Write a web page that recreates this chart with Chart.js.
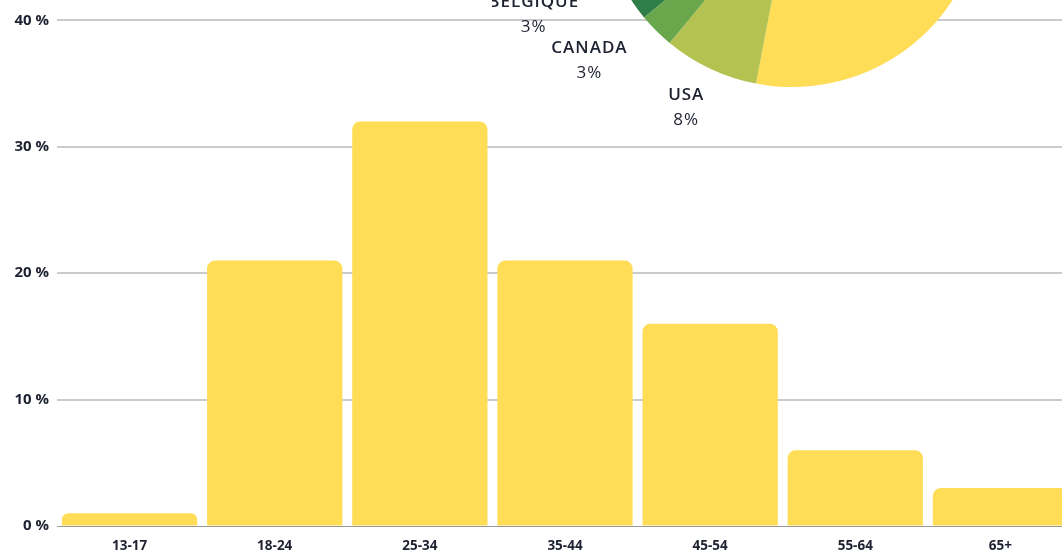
<!DOCTYPE html>
<html>
<head>
<meta charset="utf-8">
<script src="https://cdn.jsdelivr.net/npm/chart.js@4.4.1/dist/chart.umd.min.js"></script>
<style>
  html, body { margin: 0; padding: 0; background: #ffffff; width: 1062px; height: 552px; overflow: hidden; }
  #wrap { position: relative; width: 1062px; height: 552px; overflow: hidden; }
  #bars { position: absolute; left: 0; top: -123px; }
  #pie { position: absolute; left: 492px; top: -405px; }
</style>
</head>
<body>
<div id="wrap">
  <canvas id="bars" width="1080" height="675"></canvas>
  <canvas id="pie" width="600" height="600"></canvas>
</div>
<script>
// ---- data ----
const ageLabels = ['13-17', '18-24', '25-34', '35-44', '45-54', '55-64', '65+'];
const ageValues = [1, 21, 32, 21, 16, 6, 3];
const yAxisMax = 50;
const yAxisStep = 10;

const countryLabels = ['FRANCE', 'USA', 'CANADA', 'BELGIQUE', 'AUTRES'];
const countryValues = [53, 8, 3, 3, 33];
const countryColors = ['#FFDD57', '#B3C250', '#6AA64C', '#2F7D48', '#245F45'];

const barColor = '#FFDD57';
const textColor = '#1e2130';

// ---- bar chart ----
new Chart(document.getElementById('bars'), {
  type: 'bar',
  data: {
    labels: ageLabels,
    datasets: [{
      data: ageValues,
      backgroundColor: barColor,
      borderWidth: 0,
      borderRadius: 8,
      borderSkipped: 'start',
      categoryPercentage: 1,
      barPercentage: 0.932
    }]
  },
  options: {
    responsive: false,
    animation: false,
    devicePixelRatio: 1,
    layout: { padding: { top: 10, right: 7, left: 0, bottom: 0 } },
    plugins: { legend: { display: false }, tooltip: { enabled: false } },
    scales: {
      x: {
        grid: { display: false, drawTicks: false },
        border: { display: false },
        ticks: {
          color: textColor,
          padding: 12,
          font: { family: 'Open Sans', size: 13.5, weight: '700' }
        },
        afterFit: (s) => { s.height = 26; }
      },
      y: {
        min: 0,
        max: yAxisMax,
        grid: {
          color: (c) => (c.tick && c.tick.value === 0) ? '#9a9a9a' : '#cbcbcb',
          lineWidth: (c) => (c.tick && c.tick.value === 0) ? 1 : 2,
          drawTicks: false
        },
        border: { display: false },
        ticks: {
          stepSize: yAxisStep,
          color: textColor,
          padding: 8,
          font: { family: 'Open Sans', size: 15, weight: '700' },
          callback: (v) => v + ' %'
        },
        afterFit: (s) => { s.width = 57; }
      }
    }
  }
});

// ---- pie with outside labels ----
const pieLabelPlugin = {
  id: 'pieLabels',
  afterDraw(chart) {
    const ctx = chart.ctx;
    const meta = chart.getDatasetMeta(0);
    const nameFont = '600 17px "Open Sans"';
    const valFont = '400 17px "Open Sans"';
    const lineGap = 25;
    const boxH = 41;
    const anchorExtra = 22;
    const sidePush = 1.9;
    const minGap = 5;
    ctx.save();
    try { ctx.letterSpacing = '1px'; } catch (e) {}
    const items = meta.data.map((arc, i) => {
      const p = arc.getProps(['x', 'y', 'startAngle', 'endAngle', 'outerRadius'], true);
      ctx.font = nameFont;
      const w1 = ctx.measureText(countryLabels[i]).width;
      ctx.font = valFont;
      const w2 = ctx.measureText(countryValues[i] + '%').width;
      return { i, p, w: Math.max(w1, w2), ang: (p.startAngle + p.endAngle) / 2 };
    });
    const place = (it) => {
      const R = it.p.outerRadius + anchorExtra;
      const c = Math.cos(it.ang), s = Math.sin(it.ang);
      it.cx = it.p.x + R * c + sidePush * c * it.w / 2;
      it.cy = it.p.y + R * s + s * boxH / 2;
    };
    items.forEach(place);
    // spread labels on the left side, bottom to top
    const norm = (a) => { let b = a % (2 * Math.PI); if (b < 0) b += 2 * Math.PI; return b; };
    const left = items.filter(it => { const a = norm(it.ang); return a > Math.PI / 2 && a < 3 * Math.PI / 2; })
                      .sort((a, b) => norm(a.ang) - norm(b.ang));
    for (let k = 1; k < left.length; k++) {
      const prev = left[k - 1], cur = left[k];
      let guard = 0;
      while (cur.cy + boxH / 2 > prev.cy - boxH / 2 - minGap && guard < 400) {
        cur.ang += Math.PI / 360; place(cur); guard++;
      }
    }
    ctx.fillStyle = textColor;
    ctx.textAlign = 'center';
    ctx.textBaseline = 'middle';
    items.forEach(it => {
      ctx.font = nameFont;
      ctx.fillText(countryLabels[it.i], it.cx, it.cy - lineGap / 2);
      ctx.font = valFont;
      ctx.fillText(countryValues[it.i] + '%', it.cx, it.cy + lineGap / 2);
    });
    ctx.restore();
  }
};

new Chart(document.getElementById('pie'), {
  type: 'pie',
  data: {
    labels: countryLabels,
    datasets: [{ data: countryValues, backgroundColor: countryColors, borderWidth: 0 }]
  },
  options: {
    responsive: false,
    animation: false,
    devicePixelRatio: 1,
    layout: { padding: 108 },
    plugins: { legend: { display: false }, tooltip: { enabled: false } }
  },
  plugins: [pieLabelPlugin]
});
</script>
</body>
</html>
